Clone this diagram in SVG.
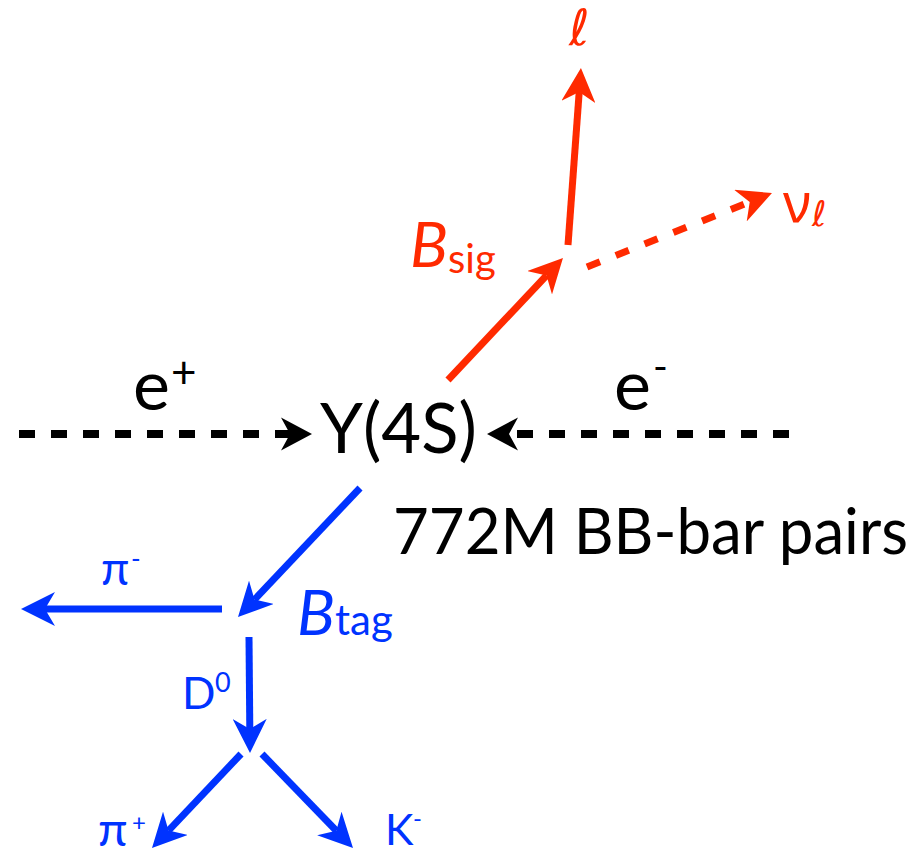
<svg xmlns="http://www.w3.org/2000/svg" width="919" height="853" viewBox="0 0 919 853">
<style>
.t{font-family:Lato,'Noto Sans',sans-serif}
.g{font-family:'Noto Sans','DejaVu Sans',sans-serif}
.s{font-family:'DejaVu Sans','Noto Sans',sans-serif;font-style:italic}
.k{fill:#000}
.r{fill:#FF2A00}
.b{fill:#0033FF}
.ln{fill:none;stroke-width:7;stroke-linecap:butt}
.kl{stroke:#000;stroke-width:8;fill:none}
.rl{stroke:#FF2A00}
.bl{stroke:#0033FF}
</style>
<defs>
<marker id="mk" markerUnits="userSpaceOnUse" viewBox="0 -17 31 34" refX="9" refY="0" markerWidth="31" markerHeight="34" orient="auto">
<path d="M0,-16.5 L31,0 L0,16.5 L9,0 Z" fill="#000"/>
</marker>
<marker id="mr" markerUnits="userSpaceOnUse" viewBox="0 -17 34 34" refX="10" refY="0" markerWidth="34" markerHeight="34" orient="auto">
<path d="M0,-17 L34,0 L0,17 L10,0 Z" fill="#FF2A00"/>
</marker>
<marker id="mb" markerUnits="userSpaceOnUse" viewBox="0 -17 34 34" refX="10" refY="0" markerWidth="34" markerHeight="34" orient="auto">
<path d="M0,-17 L34,0 L0,17 L10,0 Z" fill="#0033FF"/>
</marker>
</defs>
<g id="connectors">
<path class="kl" d="M19,434 L290,434" stroke-dasharray="16 16" marker-end="url(#mk)"/>
<path class="kl" d="M789,434 L509,434" stroke-dasharray="16 16" marker-end="url(#mk)"/>
<path class="ln rl" d="M448,380 L546.5,275.5" marker-end="url(#mr)"/>
<path class="ln rl" d="M568,245 L579.2,91.9" marker-end="url(#mr)"/>
<path class="ln rl" d="M587,267 L749.7,201.9" stroke-dasharray="14 17" marker-end="url(#mr)"/>
<path class="ln bl" d="M360,488 L254.5,599.6" marker-end="url(#mb)"/>
<path class="ln bl" d="M222,609 L45,609" marker-end="url(#mb)"/>
<path class="ln bl" d="M249,637 L249.8,729" marker-end="url(#mb)"/>
<path class="ln bl" d="M241,754 L168.5,830.6" marker-end="url(#mb)"/>
<path class="ln bl" d="M262,754 L336.3,830.7" marker-end="url(#mb)"/>
</g>
<g id="node-eplus">
<text class="t k" x="133" y="410" font-size="70">e<tspan x="171" y="388" font-size="44">+</tspan></text>
</g>
<g id="node-eminus">
<text class="t k" x="614" y="410" font-size="70">e<tspan x="653" y="381" font-size="40">-</tspan></text>
</g>
<g id="node-Y4S">
<text class="t k" x="320" y="453" font-size="70" textLength="157" lengthAdjust="spacingAndGlyphs">Y(4S)</text>
</g>
<g id="node-pairs">
<text class="t k" x="393" y="554" font-size="63" textLength="515" lengthAdjust="spacingAndGlyphs">772M BB-bar pairs</text>
</g>
<g id="node-Bsig">
<text class="t r" x="410" y="267" font-size="63" font-style="italic">B<tspan x="448" y="273" font-size="40" font-style="normal">sig</tspan></text>
</g>
<g id="node-lepton">
<text class="s r" x="569" y="45" font-size="50">ℓ</text>
</g>
<g id="node-nu">
<text class="g r" x="783" y="222" font-size="54">ν<tspan x="812" y="226" font-size="35" font-family="'DejaVu Sans','Noto Sans',sans-serif" font-style="italic">ℓ</tspan></text>
</g>
<g id="node-Btag">
<text class="t b" x="297" y="635" font-size="63" font-style="italic">B<tspan x="335" y="635" font-size="42" font-style="normal">tag</tspan></text>
</g>
<g id="node-piminus">
<text class="t b" x="101" y="585" font-size="46">π<tspan x="131" y="568" font-size="26">-</tspan></text>
</g>
<g id="node-D0">
<text class="t b" x="182" y="709" font-size="44">D<tspan x="215" y="692" font-size="27">0</tspan></text>
</g>
<g id="node-piplus">
<text class="t b" x="98" y="846" font-size="48">π<tspan x="132" y="831" font-size="24">+</tspan></text>
</g>
<g id="node-Kminus">
<text class="t b" x="385" y="845" font-size="43">K<tspan x="413" y="827" font-size="24">-</tspan></text>
</g>
</svg>
